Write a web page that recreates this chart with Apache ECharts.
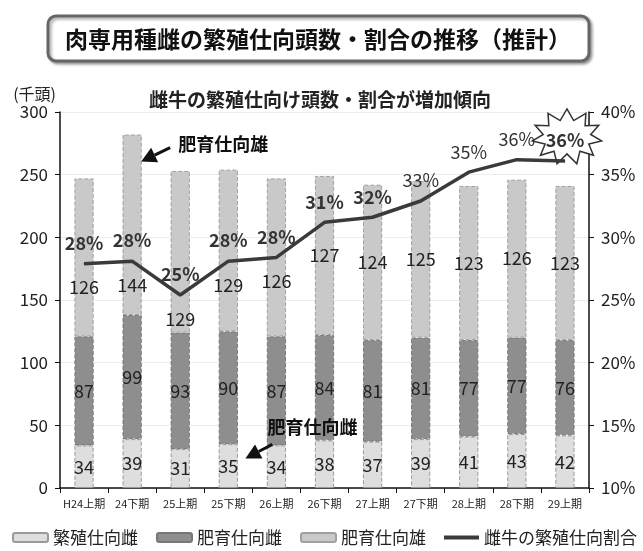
<!DOCTYPE html>
<html><head><meta charset="utf-8">
<script src="https://cdn.jsdelivr.net/npm/echarts@6/dist/echarts.min.js"></script>
<style>html,body{margin:0;padding:0;background:#fff}#c{width:643px;height:551px}</style>
</head><body><div id="c"></div>
<script>
const categories = ['H24上期','24下期','25上期','25下期','26上期','26下期','27上期','27下期','28上期','28下期','29上期'];
const breedingFemale = [34,39,31,35,34,38,37,39,41,43,42];
const fatteningFemale = [87,99,93,90,87,84,81,81,77,77,76];
const fatteningMale = [126,144,129,129,126,127,124,125,123,126,123];
const breedingRatio = [27.9,28.1,25.4,28.1,28.4,31.2,31.6,32.9,35.2,36.2,36.1];
const leftTicks = [0,50,100,150,200,250,300];
const rightTicks = [10,15,20,25,30,35,40];

const FONT = '"Noto Sans CJK JP", "Noto Sans", sans-serif';
const chart = echarts.init(document.getElementById('c'), null, {renderer:'canvas'});

function buildOption(topOffsets){
  return {
    backgroundColor:'#fff',
    textStyle:{fontFamily:FONT},
    animation:false,
    grid:{left:60,right:54,top:112,bottom:63,containLabel:false},
    legend:{
      top:529,left:12,width:640,itemWidth:35,itemHeight:9,itemGap:18,padding:0,
      textStyle:{fontSize:17,color:'#222',fontFamily:FONT},
      data:['繁殖仕向雌','肥育仕向雌','肥育仕向雄',{name:'雌牛の繁殖仕向割合',icon:'path://M0,0H35V4H0Z'}]
    },
    xAxis:{
      type:'category',data:categories,boundaryGap:true,
      axisLine:{lineStyle:{color:'#111',width:1.5}},
      axisTick:{show:true,inside:false,length:5,lineStyle:{color:'#111'}},
      axisLabel:{fontSize:11,color:'#222',margin:10,interval:0,fontFamily:FONT},
      splitLine:{show:false}
    },
    yAxis:[{
      type:'value',min:leftTicks[0],max:leftTicks[leftTicks.length-1],interval:50,
      name:'(千頭)',nameLocation:'end',nameGap:10,
      nameTextStyle:{align:'right',fontSize:16,color:'#222',padding:[0,4,0,0]},
      axisLine:{show:true,lineStyle:{color:'#111',width:1.5}},
      axisTick:{show:true,inside:false,length:5,lineStyle:{color:'#111'}},
      axisLabel:{fontSize:17,color:'#222',margin:12},
      splitLine:{show:true,lineStyle:{color:'#ececec',width:1}}
    },{
      type:'value',min:rightTicks[0],max:rightTicks[rightTicks.length-1],interval:5,
      position:'right',
      axisLine:{show:true,lineStyle:{color:'#111',width:1.5}},
      axisTick:{show:true,inside:false,length:5,lineStyle:{color:'#111'}},
      axisLabel:{fontSize:17,color:'#222',margin:12,formatter:'{value}%'},
      splitLine:{show:false}
    }],
    series:[
      {name:'繁殖仕向雌',type:'bar',stack:'a',barWidth:'40%',data:breedingFemale,
        itemStyle:{color:'#dedede',borderColor:'#9a9a9a',borderWidth:1,borderType:'dashed'},
        label:{show:true,position:'inside',fontSize:18,color:'#222'}},
      {name:'肥育仕向雌',type:'bar',stack:'a',data:fatteningFemale,
        itemStyle:{color:'#8e8e8e',borderColor:'#777',borderWidth:1,borderType:'dashed'},
        label:{show:true,position:'inside',fontSize:18,color:'#222'}},
      {name:'肥育仕向雄',type:'bar',stack:'a',
        data:fatteningMale.map((v,i)=>({value:v,label:{offset:[0,topOffsets[i]||0]}})),
        itemStyle:{color:'#c9c9c9',borderColor:'#a0a0a0',borderWidth:1,borderType:'dashed'},
        label:{show:true,position:'inside',fontSize:18,color:'#222'}},
      {name:'雌牛の繁殖仕向割合',type:'line',yAxisIndex:1,data:breedingRatio,
        symbol:'circle',symbolSize:1,showSymbol:true,z:5,
        lineStyle:{color:'#3a3a3a',width:3.5},itemStyle:{color:'#3a3a3a'},
        label:{show:true,position:'top',distance:11,
          formatter:p=>{const t=Math.round(p.value)+'%';return (p.dataIndex<7||p.dataIndex===categories.length-1)?'{b|'+t+'}':'{n|'+t+'}';},
          rich:{b:{fontSize:18,fontWeight:'bold',color:'#333',fontFamily:FONT},n:{fontSize:18,color:'#333',fontFamily:FONT}}}}
    ]
  };
}

chart.setOption(buildOption([]));

// shift top-segment labels below the line where they would collide
const offsets = fatteningMale.map((t,i)=>{
  const base = breedingFemale[i]+fatteningFemale[i];
  const cy = chart.convertToPixel({xAxisIndex:0,yAxisIndex:0},[i, base+t/2])[1];
  const ly = chart.convertToPixel({xAxisIndex:0,yAxisIndex:1},[i, breedingRatio[i]])[1];
  return Math.max(0,(ly+24)-cy);
});
const opt = buildOption(offsets);

// starburst around the last ratio label
const last = categories.length-1;
const lp = chart.convertToPixel({xAxisIndex:0,yAxisIndex:1},[last, breedingRatio[last]]);
const cx = lp[0]+2, cyS = lp[1]-24;
const pts=[]; const N=11;
for(let k=0;k<N*2;k++){
  const a = -Math.PI/2 + k*Math.PI/N;
  const rx = k%2===0?35:24, ry = k%2===0?28:17;
  pts.push([cx+rx*Math.cos(a), cyS+ry*Math.sin(a)]);
}
// arrows
const b2 = chart.convertToPixel({xAxisIndex:0,yAxisIndex:0},[1, breedingFemale[1]+fatteningFemale[1]+fatteningMale[1]]);
const b5 = chart.convertToPixel({xAxisIndex:0,yAxisIndex:0},[4, breedingFemale[4]]);
function arrow(x1,y1,x2,y2){
  const ang=Math.atan2(y2-y1,x2-x1), L=15, W=8;
  const bx=x2-L*Math.cos(ang), by=y2-L*Math.sin(ang);
  return [
    {type:'line',shape:{x1:x1,y1:y1,x2:bx,y2:by},style:{stroke:'#111',lineWidth:3},z:20},
    {type:'polygon',shape:{points:[[x2,y2],[bx+W*Math.sin(ang),by-W*Math.cos(ang)],[bx-W*Math.sin(ang),by+W*Math.cos(ang)]]},style:{fill:'#111'},z:20}
  ];
}
const arrow1 = arrow(b2[0]+38,b2[1]+13,b2[0]+9,b2[1]+27);
const arrow2 = arrow(b5[0]-4,b5[1]-1,b5[0]-31,b5[1]+13);

opt.graphic = [
  {type:'rect',shape:{x:48,y:16,width:541,height:45,r:8},
    style:{fill:'#fff',stroke:'#666',lineWidth:3,shadowBlur:3,shadowColor:'rgba(0,0,0,0.35)',shadowOffsetX:2,shadowOffsetY:2},z:10},
  {type:'text',x:318,y:39,style:{text:'肉専用種雌の繁殖仕向頭数・割合の推移（推計）',font:'bold 23px '+FONT,fill:'#111',align:'center',verticalAlign:'middle'},z:11},
  {type:'text',x:320,y:100,style:{text:'雌牛の繁殖仕向け頭数・割合が増加傾向',font:'bold 19px '+FONT,fill:'#222',align:'center',verticalAlign:'middle'},z:11},
  {type:'polygon',shape:{points:pts},style:{fill:'#fff',stroke:'#333',lineWidth:1.5},z:4},
  {type:'text',x:b2[0]+46,y:b2[1]+10,style:{text:'肥育仕向雄',font:'bold 18px '+FONT,fill:'#111',align:'left',verticalAlign:'middle'},z:20},
  {type:'text',x:b5[0]-9,y:b5[1]-18,style:{text:'肥育仕向雌',font:'bold 18px '+FONT,fill:'#111',align:'left',verticalAlign:'middle'},z:20}
].concat(arrow1,arrow2);

chart.setOption(opt, true);
</script></body></html>
